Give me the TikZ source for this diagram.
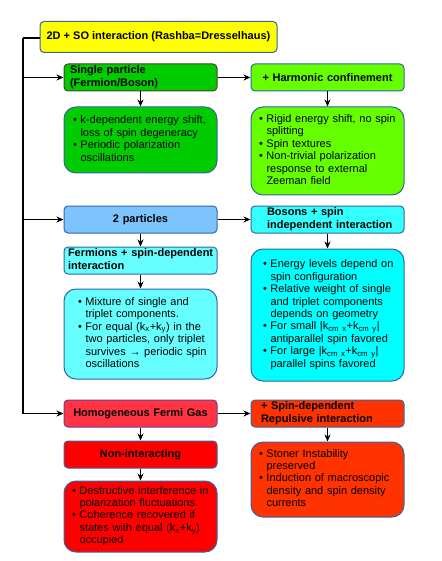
\documentclass[tikz,border=0pt]{standalone}
\usepackage{fontspec}
\setmainfont{Liberation Sans}
\usetikzlibrary{arrows.meta}
\definecolor{bblue}{RGB}{52,101,164}
\definecolor{bpurple}{RGB}{114,60,140}
\definecolor{bolive}{RGB}{70,70,30}
\definecolor{cyel}{RGB}{255,255,0}
\definecolor{cgreen}{RGB}{0,204,0}
\definecolor{clime}{RGB}{102,255,0}
\definecolor{cblue}{RGB}{125,196,255}
\definecolor{ccyanl}{RGB}{102,255,255}
\definecolor{ccyanm}{RGB}{51,255,255}
\definecolor{ccyan}{RGB}{0,255,255}
\definecolor{cpink}{RGB}{255,51,68}
\definecolor{cred}{RGB}{255,0,0}
\definecolor{corange}{RGB}{255,51,0}
\newcommand{\bl}{\makebox[7.5pt][l]{•}}
\newcommand{\ii}{\hspace*{7.5pt}}
\newcommand{\tl}[1]{\begin{tabular}{@{}l@{}}#1\end{tabular}}
\begin{document}
\begin{tikzpicture}[x=1pt,y=-1pt,
  font=\fontsize{11}{12.4}\selectfont,
  hdr/.style={draw=bblue,line width=1pt,rounded corners=4pt,minimum width=153pt,minimum height=27pt,
    inner ysep=0pt,font=\fontsize{11}{12.7}\selectfont\bfseries},
  hl/.style={hdr,inner xsep=#1,text width=153pt-2*#1,align=left},
  hc/.style={hdr,inner xsep=4pt,text width=145pt,align=center},
  bbox/.style={draw=bblue,line width=1pt,rounded corners=12pt,minimum width=153pt,
    inner ysep=0pt,inner xsep=#1,text width=153pt-2*#1,align=left},
  arr/.style={line width=1.2pt,-{Stealth[length=7pt,width=6pt]}},
  ln/.style={line width=1.2pt}]
\useasboundingbox (0,0) rectangle (441,561);
\node[draw=bblue,line width=1pt,rounded corners=4pt,fill=cyel,minimum width=237pt,minimum height=31pt,
  font=\fontsize{11}{12.7}\selectfont\bfseries] (top) at (158.5,37) {2D + SO interaction (Rashba=Dresselhaus)};
% row 1
\node[hl=6pt,fill=cgreen,draw=bolive] (sp) at (140.5,77.5) {\tl{Single particle\\(Fermion/Boson)}};
\node[hc,fill=clime] (hc) at (327.5,77.5) {+ Harmonic confinement};
\node[bbox=9pt,fill=cgreen,minimum height=66pt] (spb) at (140.5,140) {\tl{\bl k-dependent energy shift,\\\ii loss of spin degeneracy\\\bl Periodic polarization\\\ii oscillations}};
\node[bbox=8pt,fill=clime,minimum height=88pt] (hcb) at (327.5,151) {\tl{\bl Rigid energy shift, no spin\\\ii splitting\\\bl Spin textures\\\bl Non-trivial polarization\\\ii response to external\\\ii Zeeman field}};
% row 2
\node[hc,fill=cblue] (tp) at (140.5,219.5) {2 particles};
\node[hl=16pt,fill=ccyanm] (bos) at (327.5,219.5) {\tl{Bosons + spin\\independent interaction}};
\node[hl=4pt,fill=ccyanl] (fer) at (140.5,260.5) {\tl{Fermions + spin-dependent\\interaction}};
\node[bbox=14pt,fill=ccyanl,minimum height=90pt] (ferb) at (140.5,334) {\tl{\bl Mixture of single and\\\ii triplet components.\\\bl For equal (k\textsubscript{x}+k\textsubscript{y}) in the\\\ii two particles, only triplet\\\ii survives → periodic spin\\\ii oscillations}};
\node[bbox=12pt,fill=ccyan,minimum height=132pt] (bosb) at (327.5,315) {\tl{\bl Energy levels depend on\\\ii spin configuration\\\bl Relative weight of single\\\ii and triplet components\\\ii depends on geometry\\\bl For small |k\textsubscript{cm x}+k\textsubscript{cm y}|\\\ii antiparallel spin favored\\\bl For large |k\textsubscript{cm x}+k\textsubscript{cm y}|\\\ii parallel spins favored}};
% row 3
\node[hc,fill=cpink,draw=bpurple] (hfg) at (140.5,413.5) {Homogeneous Fermi Gas};
\node[hl=10pt,fill=corange] (sdr) at (327.5,413.5) {\tl{+ Spin-dependent\\Repulsive interaction}};
\node[hc,fill=cred] (ni) at (140.5,454.5) {Non-interacting};
\node[bbox=8pt,fill=cred,minimum height=71pt] (nib) at (140.5,516.5) {\tl{\bl Destructive interference in\\\ii polarization fluctuations.\\\bl Coherence recovered if\\\ii states with equal (k\textsubscript{x}+k\textsubscript{y})\\\ii occupied}};
\node[bbox=8pt,fill=corange,minimum height=75pt] (sdrb) at (327.5,479.5) {\tl{\bl Stoner Instability\\\ii preserved\\\bl Induction of macroscopic\\\ii density and spin density\\\ii currents}};
% connectors
\coordinate (c0) at (23,38);
\draw[ln] (top.west |- c0) -- (c0);
\draw[arr] (c0) |- (hfg.west);
\draw[arr] (c0 |- sp.west) -- (sp.west);
\draw[arr] (c0 |- tp.west) -- (tp.west);
\draw[arr] (sp.east) -- (hc.west);
\draw[arr] (tp.east) -- (bos.west);
\draw[arr] (hfg.east) -- (sdr.west);
\draw[arr] (sp.south) -- (spb.north);
\draw[arr] (hc.south) -- (hcb.north);
\draw[arr] (tp.south) -- (fer.north);
\draw[arr] (fer.south) -- (ferb.north);
\draw[arr] (bos.south) -- (bosb.north);
\draw[arr] (hfg.south) -- (ni.north);
\draw[arr] (ni.south) -- (nib.north);
\draw[arr] (sdr.south) -- (sdrb.north);
\end{tikzpicture}
\end{document}
